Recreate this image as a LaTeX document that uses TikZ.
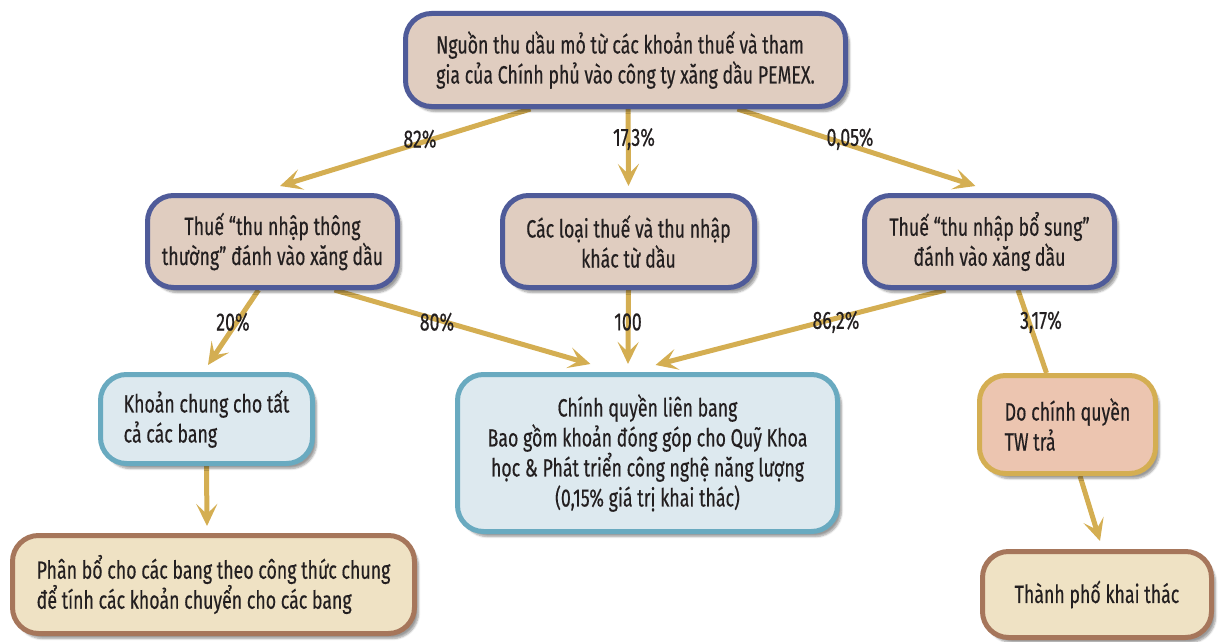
\documentclass[tikz,border=0pt]{standalone}
\usepackage{fontspec}
\setmainfont{Fira Sans}[FakeStretch=0.71, FakeBold=0.4]
\usetikzlibrary{arrows.meta,shadows.blur,backgrounds}

\definecolor{inkc}{RGB}{35,31,32}
\definecolor{navyline}{RGB}{79,91,153}
\definecolor{rosefill}{RGB}{224,205,192}
\definecolor{skyfill}{RGB}{221,233,239}
\definecolor{tealline}{RGB}{105,170,192}
\definecolor{salmonfill}{RGB}{236,197,176}
\definecolor{goldc}{RGB}{212,174,82}
\definecolor{creamfill}{RGB}{239,226,196}
\definecolor{brownline}{RGB}{166,118,91}

\tikzset{
  box/.style={rounded corners=26pt, line width=5pt, inner sep=0pt,
    text=inkc, font=\fontsize{25}{30}\selectfont,
    blur shadow={shadow xshift=4pt, shadow yshift=-5pt, shadow blur steps=6, shadow opacity=40}},
  taxbox/.style={box, draw=navyline, fill=rosefill},
  fedbox/.style={box, draw=tealline, fill=skyfill},
  paybox/.style={box, draw=goldc, fill=salmonfill},
  statebox/.style={box, draw=brownline, fill=creamfill},
  flow/.style={draw=goldc, line width=5pt,
    -{Stealth[length=22pt,width=21pt,inset=10pt]}},
  plainflow/.style={draw=goldc, line width=5pt},
  share/.style={text=inkc, font=\fontsize{25}{30}\selectfont, inner sep=0pt}
}

\begin{document}
\begin{tikzpicture}[x=1pt,y=-1pt]
\useasboundingbox (0,0) rectangle (1224,642);

% revenue source
\node[taxbox, minimum width=440pt, minimum height=93pt, align=left] (top) at (625.5,60)
  {Nguồn thu dầu mỏ từ các khoản thuế và tham\\gia của Chính phủ vào công ty xăng dầu PEMEX.};

% tax categories
\node[taxbox, minimum width=250pt, minimum height=92pt, align=center] (ord) at (272.5,241.5)
  {Thuế “thu nhập thông\\thường” đánh vào xăng dầu};
\node[taxbox, minimum width=252pt, minimum height=92pt, align=center] (oth) at (628.5,241.5)
  {Các loại thuế và thu nhập\\khác từ dầu};
\node[taxbox, minimum width=250pt, minimum height=92pt, align=center] (sup) at (989.5,241.5)
  {Thuế “thu nhập bổ sung”\\đánh vào xăng dầu};

% recipients
\node[fedbox, minimum width=212pt, minimum height=89pt, align=left] (pool) at (206.5,419)
  {Khoản chung cho tất\\cả các bang};
\node[fedbox, minimum width=380pt, minimum height=157pt, align=center] (fed) at (647.5,453)
  {Chính quyền liên bang\\Bao gồm khoản đóng góp cho Quỹ Khoa\\học \& Phát triển công nghệ năng lượng\\(0,15\% giá trị khai thác)};
\node[paybox, minimum width=176pt, minimum height=98pt, align=left] (tw) at (1067.5,424.5)
  {Do chính quyền\\TW trả};
\node[statebox, minimum width=402pt, minimum height=98pt, align=left] (alloc) at (213.5,584.5)
  {Phân bổ cho các bang theo công thức chung\\để tính các khoản chuyển cho các bang};
\node[statebox, minimum width=229pt, minimum height=86pt, align=left] (city) at (1097,594.5)
  {Thành phố khai thác};

% flows
\begin{pgfonlayer}{background}
\draw[flow] ([xshift=-95pt]top.south) -- ([xshift=7.5pt,yshift=7pt]ord.north);
\draw[flow] ([xshift=2.5pt]top.south) -- ([yshift=7pt]oth.north);
\draw[flow] ([xshift=112pt]top.south) -- ([xshift=-14pt,yshift=7pt]sup.north);
\draw[flow] ([xshift=-14pt]ord.south) -- ([xshift=1.5pt,yshift=7pt]pool.north);
\draw[flow] ([xshift=62pt]ord.south) -- ([xshift=-57pt,yshift=8pt]fed.north);
\draw[flow] (oth.south) -- ([xshift=-19.5pt,yshift=8pt]fed.north);
\draw[flow] ([xshift=-44pt]sup.south) -- ([xshift=8pt,yshift=7pt]fed.north);
\draw[plainflow] ([xshift=28.5pt]sup.south) -- ([xshift=-21pt]tw.north);
\draw[flow] ([xshift=12.5pt]tw.south) -- ([xshift=3pt,yshift=8pt]city.north);
\draw[flow] (pool.south) -- ([xshift=-6.5pt,yshift=7pt]alloc.north);
\end{pgfonlayer}

% shares
\node[share] (s82) at (420,139) {82\%};
\node[share] (s173) at (634,139) {17,3\%};
\node[share] (s005) at (850,139) {0,05\%};
\node[share] (s20) at (233,322) {20\%};
\node[share] (s80) at (437,322) {80\%};
\node[share] (s100) at (628,322) {100};
\node[share] (s862) at (836,322) {86,2\%};
\node[share] (s317) at (1041,322) {3,17\%};
\end{tikzpicture}
\end{document}
